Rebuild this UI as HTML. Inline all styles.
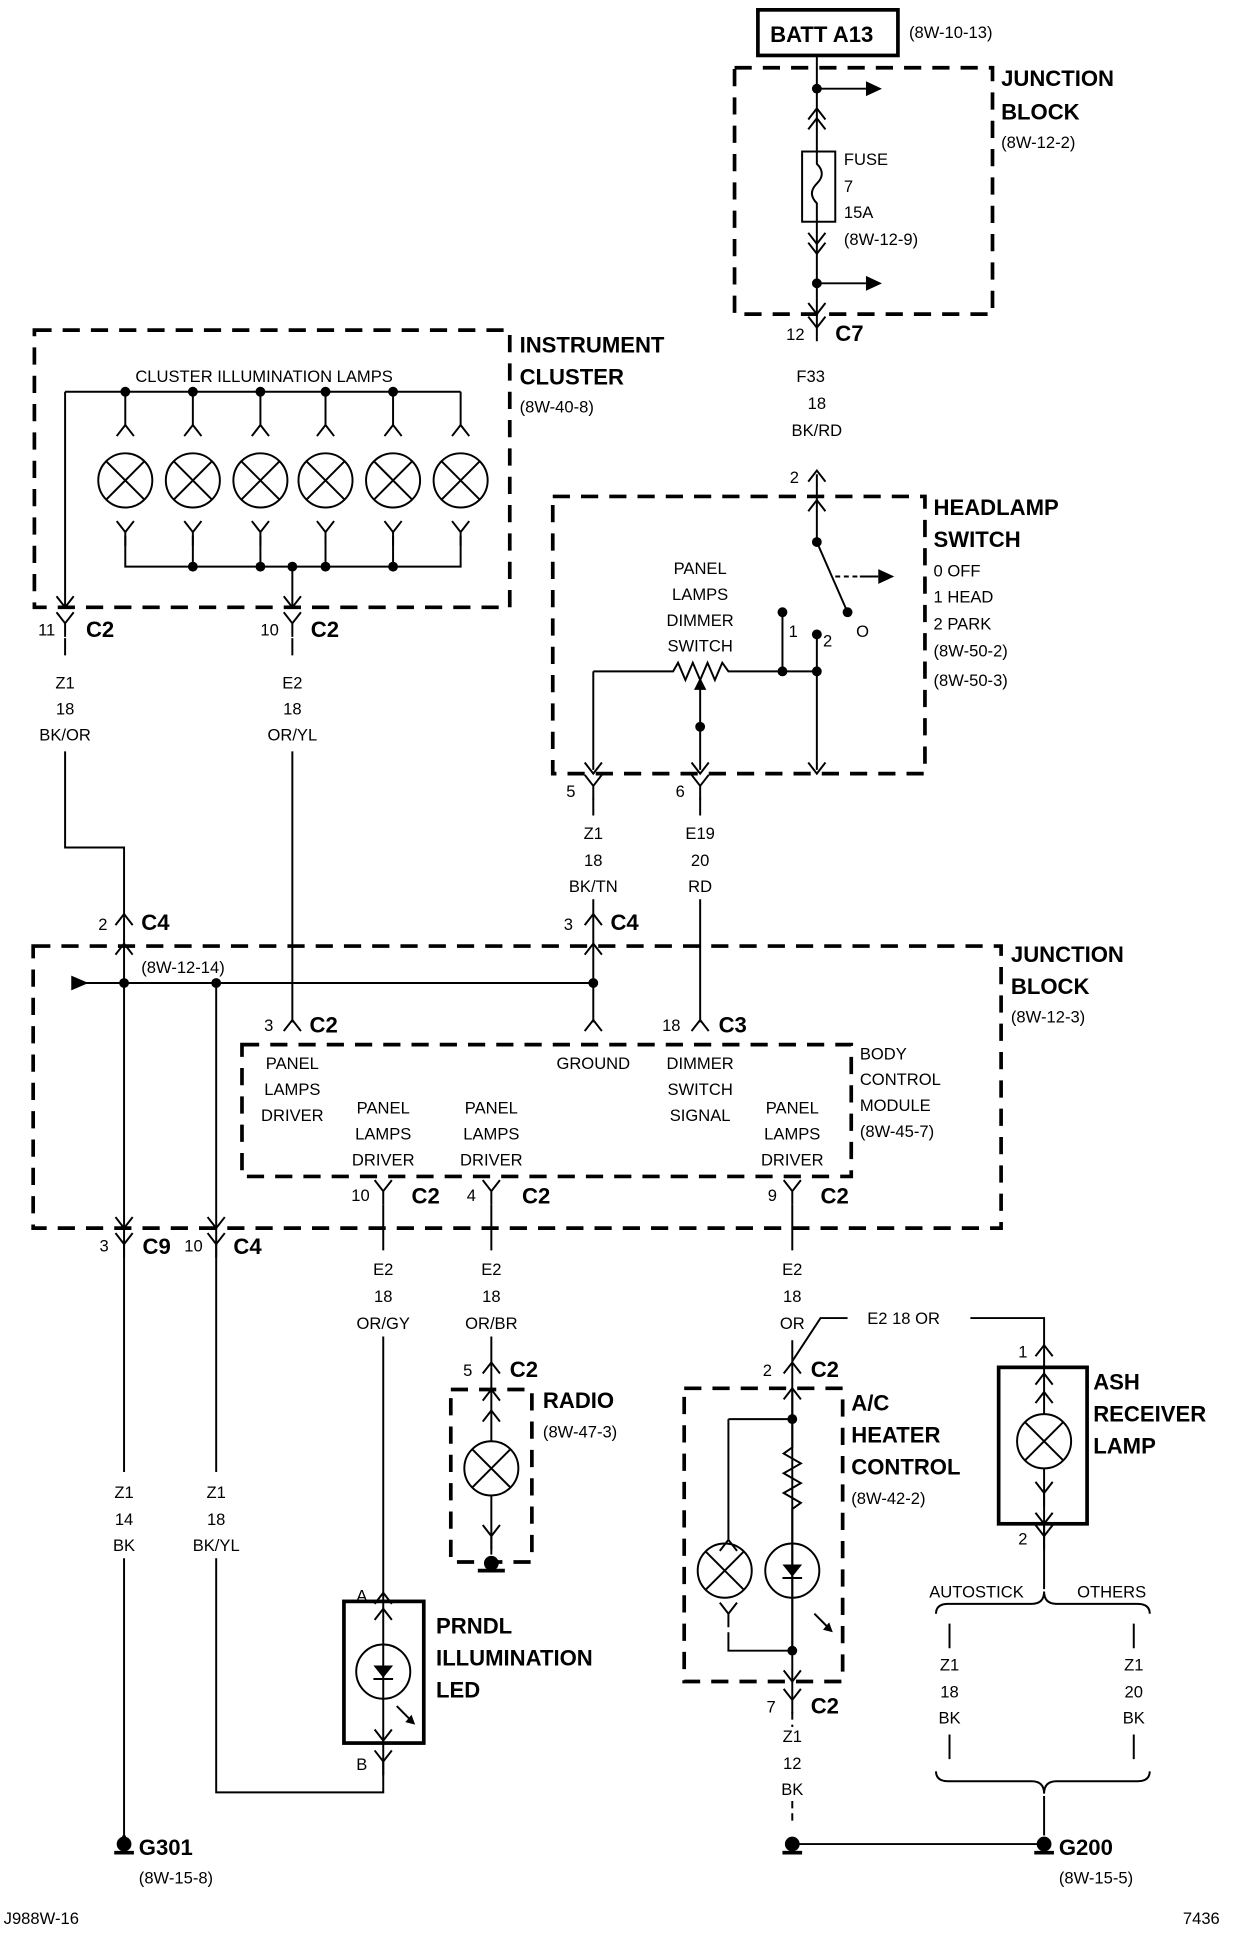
<!DOCTYPE html>
<html><head><meta charset="utf-8"><style>
html,body{margin:0;padding:0;background:#fff;}
svg{display:block}
text{font-family:"Liberation Sans Narrow","Liberation Sans",sans-serif;fill:#000}
.s{font-size:13.5px}
.b{font-size:18px;font-weight:bold}
.m{text-anchor:middle}
</style></head><body>
<svg width="1248" height="1934" viewBox="0 0 1016 1570" preserveAspectRatio="none" xmlns="http://www.w3.org/2000/svg">
<defs>
<g id="Y"><path d="M-7,-9 L0,0 L7,-9 M0,0 V11" fill="none" stroke="#000" stroke-width="1.6"/></g>
<g id="A"><path d="M-7,9 L0,0 L7,9" fill="none" stroke="#000" stroke-width="1.6"/></g>
<g id="V"><path d="M-7,-9 L0,0 L7,-9" fill="none" stroke="#000" stroke-width="1.6"/></g>
<g id="L"><circle r="22" fill="none" stroke="#000" stroke-width="1.6"/><path d="M-15.5,-15.5 L15.5,15.5 M15.5,-15.5 L-15.5,15.5" stroke="#000" stroke-width="1.6"/></g>
<g id="D"><circle r="4" fill="#000"/></g>
</defs>
<g fill="none" stroke="#000">
<g stroke-width="3" stroke-dasharray="14,9">
<rect x="598" y="55" width="210" height="200"/>
<rect x="28" y="268" width="387" height="225"/>
<rect x="450" y="403" width="303" height="225"/>
<rect x="27" y="768" width="788" height="229"/>
<rect x="197" y="848" width="496" height="107"/>
<rect x="367" y="1128" width="66" height="140"/>
<rect x="557" y="1127" width="129" height="238"/>
</g>
<rect x="617" y="8" width="114" height="37" stroke-width="3"/>
<rect x="280" y="1300" width="65" height="115" stroke-width="3"/>
<rect x="813" y="1110" width="72" height="127" stroke-width="3"/>
<g stroke-width="1.6">
<path d="M665,45 V265"/>
<path d="M665,72 H705 M665,230 H705"/>
<rect x="653" y="123" width="27" height="57" fill="#fff"/>
<path d="M665,123 V133 q8,8 0,16 q-8,8 0,16 V180"/>
<path d="M665,385 V440 L690,497"/>
<path d="M680,468 H700" stroke-dasharray="4,3"/>
<path d="M700,468 H715"/>
<path d="M637,497 V545 M665,515 V625 M483,545 H548 l4,-7 l6,14 l6,-14 l6,14 l6,-14 l6,14 l6,-14 l5,7 H665 M483,545 V625 M570,558 V625"/>
<path d="M53,318 H375 M53,318 V493 M102,318 V345 M157,318 V345 M212,318 V345 M265,318 V345 M320,318 V345 M375,318 V345"/>
<path d="M102,435 V460 H375 V435 M157,435 V460 M212,435 V460 M265,435 V460 M320,435 V460 M238,460 V493"/>
<path d="M53,518 V532 M53,610 V688 H101 V745 M238,518 V532 M238,610 V830"/>
<path d="M483,648 V662 M483,730 V830 M570,648 V662 M570,730 V830"/>
<path d="M60,798 H483 M101,745 V1195 M101,1265 V1490 M176,798 V1195 M176,1265 V1455 H312 V1440"/>
<path d="M312,978 V1015 M312,1085 V1298 M400,978 V1015 M400,1085 V1110 M645,978 V1015 M645,1088 V1380"/>
<path d="M645,1105 L668,1070 H690 M790,1070 H850 V1095"/>
<path d="M400,1110 V1170 M400,1214 V1262"/>
<path d="M389,1275 H411" stroke-width="3"/>
<path d="M312,1298 V1440"/>
<path d="M645,1127 V1175 l-7,5 l14,8 l-14,8 l14,8 l-14,8 l14,8 l-7,5 V1340 M593,1152 H645 M593,1152 V1250 M593,1325 V1340 H645"/>
<path d="M645,1390 V1402 M645,1462 V1480" stroke-dasharray="6,4"/>
<path d="M645,1497 H850 M850,1458 V1490 M850,1237 V1290"/>
<path d="M850,1095 V1148 M850,1192 V1248"/>
<path d="M762,1310 q0,-8 10,-8 H840 q10,0 10,-10 q0,10 10,10 H926 q10,0 10,8"/>
<path d="M773,1318 V1338 M923,1318 V1338 M773,1408 V1428 M923,1408 V1428"/>
<path d="M762,1438 q0,8 10,8 H840 q10,0 10,10 q0,-10 10,-10 H926 q10,0 10,-8"/>
<path d="M101,1490 V1494 M93,1504 H109 M637,1504 H653 M842,1504 H858" stroke-width="3"/>
<path d="M323,1385 L335,1397"/>
<path d="M663,1310 L675,1322"/>
</g>
</g>
<g fill="#000">
<path d="M705,66 L718,72 L705,78Z"/><path d="M705,224 L718,230 L705,236Z"/>
<path d="M715,462 L728,468 L715,474Z"/>
<path d="M58,792 L72,798 L58,804Z"/>
<path d="M565,560 L570,550 L575,560Z"/>
<path d="M335,1392 L338,1400 L330,1398Z"/><path d="M675,1317 L678,1325 L670,1323Z"/>
<path d="M304,1352 L320,1352 L312,1362Z"/><path d="M637,1270 L653,1270 L645,1280Z"/>
</g>
<g stroke="#000" stroke-width="1.6"><path d="M304,1363 H320 M637,1281 H653"/></g>
<g>
<use href="#D" x="665" y="72"/><use href="#D" x="665" y="230"/>
<use href="#D" x="665" y="440"/><use href="#D" x="690" y="497"/><use href="#D" x="637" y="497"/><use href="#D" x="665" y="515"/>
<use href="#D" x="637" y="545"/><use href="#D" x="665" y="545"/><use href="#D" x="570" y="590"/>
<use href="#D" x="102" y="318"/><use href="#D" x="157" y="318"/><use href="#D" x="212" y="318"/><use href="#D" x="265" y="318"/><use href="#D" x="320" y="318"/>
<use href="#D" x="157" y="460"/><use href="#D" x="212" y="460"/><use href="#D" x="238" y="460"/><use href="#D" x="265" y="460"/><use href="#D" x="320" y="460"/>
<use href="#D" x="101" y="798"/><use href="#D" x="176" y="798"/><use href="#D" x="483" y="798"/>
<use href="#D" x="645" y="1152"/><use href="#D" x="645" y="1340"/>
<circle cx="101" cy="1497" r="6" fill="#000"/><circle cx="645" cy="1497" r="6" fill="#000"/><circle cx="850" cy="1497" r="6" fill="#000"/><circle cx="400" cy="1269" r="6" fill="#000"/>
</g>
<use href="#L" x="102" y="390"/><use href="#L" x="157" y="390"/><use href="#L" x="212" y="390"/><use href="#L" x="265" y="390"/><use href="#L" x="320" y="390"/><use href="#L" x="375" y="390"/>
<use href="#L" x="400" y="1192"/><use href="#L" x="590" y="1275"/><use href="#L" x="850" y="1170"/>
<circle cx="645" cy="1275" r="22" fill="none" stroke="#000" stroke-width="1.6"/>
<circle cx="312" cy="1357" r="22" fill="none" stroke="#000" stroke-width="1.6"/>
<g>
<use href="#A" x="665" y="88"/><use href="#A" x="665" y="96"/>
<use href="#V" x="665" y="198"/><use href="#V" x="665" y="206"/>
<use href="#V" x="665" y="255"/><use href="#Y" x="665" y="266"/>
<use href="#A" x="665" y="382"/><use href="#A" x="665" y="406"/>
<use href="#A" x="102" y="345"/><use href="#A" x="157" y="345"/><use href="#A" x="212" y="345"/><use href="#A" x="265" y="345"/><use href="#A" x="320" y="345"/><use href="#A" x="375" y="345"/>
<use href="#Y" x="102" y="432"/><use href="#Y" x="157" y="432"/><use href="#Y" x="212" y="432"/><use href="#Y" x="265" y="432"/><use href="#Y" x="320" y="432"/><use href="#Y" x="375" y="432"/>
<use href="#V" x="53" y="493"/><use href="#Y" x="53" y="506"/><use href="#V" x="238" y="493"/><use href="#Y" x="238" y="506"/>
<use href="#V" x="483" y="628"/><use href="#Y" x="483" y="638"/><use href="#V" x="570" y="628"/><use href="#Y" x="570" y="638"/><use href="#V" x="665" y="628"/>
<use href="#A" x="101" y="742"/><use href="#A" x="101" y="766"/><use href="#A" x="483" y="742"/><use href="#A" x="483" y="766"/>
<use href="#A" x="238" y="828"/><use href="#A" x="483" y="828"/><use href="#A" x="570" y="828"/>
<use href="#Y" x="312" y="967"/><use href="#Y" x="400" y="967"/><use href="#Y" x="645" y="967"/>
<use href="#V" x="101" y="997"/><use href="#Y" x="101" y="1010"/><use href="#V" x="176" y="997"/><use href="#Y" x="176" y="1010"/>
<use href="#A" x="400" y="1106"/><use href="#A" x="400" y="1128"/><use href="#A" x="400" y="1145"/><use href="#Y" x="400" y="1247"/>
<use href="#A" x="645" y="1106"/><use href="#A" x="645" y="1127"/>
<use href="#A" x="593" y="1250"/><use href="#Y" x="593" y="1310"/>
<use href="#V" x="645" y="1365"/><use href="#Y" x="645" y="1380"/>
<use href="#A" x="850" y="1092"/><use href="#A" x="850" y="1115"/><use href="#A" x="850" y="1130"/>
<use href="#Y" x="850" y="1212"/><use href="#V" x="850" y="1237"/><use href="#Y" x="850" y="1247"/>
<use href="#A" x="312" y="1293"/><use href="#A" x="312" y="1306"/><use href="#V" x="312" y="1413"/><use href="#Y" x="312" y="1430"/>
</g>
<text x="627" y="34" class="b">BATT A13</text>
<text x="740" y="31" class="s">(8W-10-13)</text>
<text x="815" y="70" class="b">JUNCTION</text><text x="815" y="97" class="b">BLOCK</text><text x="815" y="120" class="s">(8W-12-2)</text>
<text x="687" y="134" class="s">FUSE</text><text x="687" y="156" class="s">7</text><text x="687" y="177" class="s">15A</text><text x="687" y="199" class="s">(8W-12-9)</text>
<text x="640" y="276" class="s">12</text><text x="680" y="277" class="b">C7</text>
<g class="s m"><text x="660" y="310">F33</text><text x="665" y="332">18</text><text x="665" y="354">BK/RD</text></g>
<text x="643" y="392" class="s">2</text>
<text x="760" y="418" class="b">HEADLAMP</text><text x="760" y="444" class="b">SWITCH</text>
<text x="760" y="468" class="s">0 OFF</text><text x="760" y="489" class="s">1 HEAD</text><text x="760" y="511" class="s">2 PARK</text>
<text x="760" y="533" class="s">(8W-50-2)</text><text x="760" y="557" class="s">(8W-50-3)</text>
<g class="s m"><text x="570" y="466">PANEL</text><text x="570" y="487">LAMPS</text><text x="570" y="508">DIMMER</text><text x="570" y="529">SWITCH</text></g>
<text x="642" y="517" class="s">1</text><text x="670" y="525" class="s">2</text><text x="697" y="517" class="s">O</text>
<text x="461" y="647" class="s">5</text><text x="550" y="647" class="s">6</text>
<g class="s m"><text x="483" y="681">Z1</text><text x="483" y="703">18</text><text x="483" y="724">BK/TN</text>
<text x="570" y="681">E19</text><text x="570" y="703">20</text><text x="570" y="724">RD</text></g>
<text x="423" y="286" class="b">INSTRUMENT</text><text x="423" y="312" class="b">CLUSTER</text><text x="423" y="335" class="s">(8W-40-8)</text>
<text x="215" y="310" class="s m">CLUSTER ILLUMINATION LAMPS</text>
<text x="31" y="516" class="s">11</text><text x="70" y="517" class="b">C2</text>
<text x="212" y="516" class="s">10</text><text x="253" y="517" class="b">C2</text>
<g class="s m"><text x="53" y="559">Z1</text><text x="53" y="580">18</text><text x="53" y="601">BK/OR</text>
<text x="238" y="559">E2</text><text x="238" y="580">18</text><text x="238" y="601">OR/YL</text></g>
<text x="80" y="755" class="s">2</text><text x="115" y="755" class="b">C4</text>
<text x="459" y="755" class="s">3</text><text x="497" y="755" class="b">C4</text>
<text x="115" y="790" class="s">(8W-12-14)</text>
<text x="823" y="781" class="b">JUNCTION</text><text x="823" y="807" class="b">BLOCK</text><text x="823" y="830" class="s">(8W-12-3)</text>
<text x="215" y="837" class="s">3</text><text x="252" y="838" class="b">C2</text>
<text x="539" y="837" class="s">18</text><text x="585" y="838" class="b">C3</text>
<g class="s m">
<text x="238" y="868">PANEL</text><text x="238" y="889">LAMPS</text><text x="238" y="910">DRIVER</text>
<text x="483" y="868">GROUND</text>
<text x="570" y="868">DIMMER</text><text x="570" y="889">SWITCH</text><text x="570" y="910">SIGNAL</text>
<text x="312" y="904">PANEL</text><text x="312" y="925">LAMPS</text><text x="312" y="946">DRIVER</text>
<text x="400" y="904">PANEL</text><text x="400" y="925">LAMPS</text><text x="400" y="946">DRIVER</text>
<text x="645" y="904">PANEL</text><text x="645" y="925">LAMPS</text><text x="645" y="946">DRIVER</text>
</g>
<text x="700" y="860" class="s">BODY</text><text x="700" y="881" class="s">CONTROL</text><text x="700" y="902" class="s">MODULE</text><text x="700" y="923" class="s">(8W-45-7)</text>
<text x="286" y="975" class="s">10</text><text x="335" y="977" class="b">C2</text>
<text x="380" y="975" class="s">4</text><text x="425" y="977" class="b">C2</text>
<text x="625" y="975" class="s">9</text><text x="668" y="977" class="b">C2</text>
<text x="81" y="1016" class="s">3</text><text x="116" y="1018" class="b">C9</text>
<text x="150" y="1016" class="s">10</text><text x="190" y="1018" class="b">C4</text>
<g class="s m">
<text x="312" y="1035">E2</text><text x="312" y="1057">18</text><text x="312" y="1079">OR/GY</text>
<text x="400" y="1035">E2</text><text x="400" y="1057">18</text><text x="400" y="1079">OR/BR</text>
<text x="645" y="1035">E2</text><text x="645" y="1057">18</text><text x="645" y="1079">OR</text>
<text x="101" y="1216">Z1</text><text x="101" y="1238">14</text><text x="101" y="1259">BK</text>
<text x="176" y="1216">Z1</text><text x="176" y="1238">18</text><text x="176" y="1259">BK/YL</text>
<text x="645" y="1414">Z1</text><text x="645" y="1436">12</text><text x="645" y="1457">BK</text>
<text x="773" y="1356">Z1</text><text x="773" y="1378">18</text><text x="773" y="1399">BK</text>
<text x="923" y="1356">Z1</text><text x="923" y="1378">20</text><text x="923" y="1399">BK</text>
</g>
<text x="706" y="1075" class="s">E2  18 OR</text>
<text x="377" y="1117" class="s">5</text><text x="415" y="1118" class="b">C2</text>
<text x="442" y="1143" class="b">RADIO</text><text x="442" y="1167" class="s">(8W-47-3)</text>
<text x="621" y="1117" class="s">2</text><text x="660" y="1118" class="b">C2</text>
<text x="693" y="1145" class="b">A/C</text><text x="693" y="1171" class="b">HEATER</text><text x="693" y="1197" class="b">CONTROL</text><text x="693" y="1221" class="s">(8W-42-2)</text>
<text x="829" y="1102" class="s">1</text><text x="829" y="1254" class="s">2</text>
<text x="890" y="1128" class="b">ASH</text><text x="890" y="1154" class="b">RECEIVER</text><text x="890" y="1180" class="b">LAMP</text>
<text x="795" y="1297" class="s m">AUTOSTICK</text><text x="905" y="1297" class="s m">OTHERS</text>
<text x="624" y="1390" class="s">7</text><text x="660" y="1391" class="b">C2</text>
<text x="290" y="1300" class="s">A</text><text x="290" y="1437" class="s">B</text>
<text x="355" y="1326" class="b">PRNDL</text><text x="355" y="1352" class="b">ILLUMINATION</text><text x="355" y="1378" class="b">LED</text>
<text x="113" y="1506" class="b">G301</text><text x="113" y="1529" class="s">(8W-15-8)</text>
<text x="862" y="1506" class="b">G200</text><text x="862" y="1529" class="s">(8W-15-5)</text>
<text x="3" y="1562" class="s">J988W-16</text><text x="963" y="1562" class="s">7436</text>
</svg>
</body></html>
